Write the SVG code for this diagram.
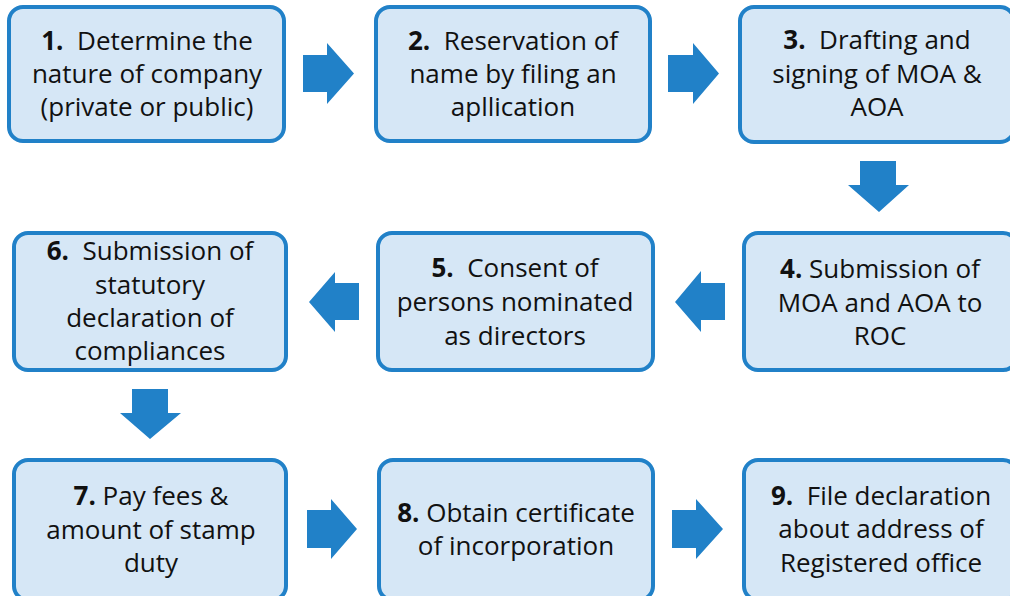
<svg xmlns="http://www.w3.org/2000/svg" width="1010" height="596" viewBox="0 0 1010 596">
<style>
.box{fill:#D6E7F6;stroke:#2181C8;stroke-width:4}
.arr{fill:#2181C8}
text{font-family:"Open Sans","Noto Sans","Liberation Sans",sans-serif;font-size:26px;fill:#111;text-anchor:middle}
.b{font-weight:bold}
</style>
<rect width="1010" height="596" fill="#fff"/>
<g id="connectors">
<polygon class="arr" points="303,55 327,55 327,43 354,73.5 327,104 327,92 303,92"/>
<polygon class="arr" points="668,55 693,55 693,43 719,73.5 693,104 693,92 668,92"/>
<polygon class="arr" points="860,161 896,161 896,185 909,185 879,212 848,185 860,185"/>
<polygon class="arr" points="725,283 701,283 701,271 675,302 701,332 701,320 725,320"/>
<polygon class="arr" points="359,283 335,283 335,272 309,302 335,332 335,320 359,320"/>
<polygon class="arr" points="132,389 168,389 168,413 181,413 150,439 120,413 132,413"/>
<polygon class="arr" points="307,510 331,510 331,499 357,529 331,559 331,548 307,548"/>
<polygon class="arr" points="672,510 696,510 696,499 723,529 696,559 696,548 672,548"/>
</g>
<g id="n1">
<rect class="box" x="9" y="7" width="275" height="134" rx="14"/>
<text x="147" y="50"><tspan class="b">1.</tspan>&#160; Determine the</text>
<text x="147" y="83">nature of company</text>
<text x="147" y="116">(private or public)</text>
</g>
<g id="n2">
<rect class="box" x="376" y="7" width="274" height="134" rx="14"/>
<text x="513" y="50"><tspan class="b">2.</tspan>&#160; Reservation of</text>
<text x="513" y="83">name by filing an</text>
<text x="513" y="116">apllication</text>
</g>
<g id="n3">
<rect class="box" x="740" y="7" width="274" height="135" rx="14"/>
<text x="877" y="49"><tspan class="b">3.</tspan>&#160; Drafting and</text>
<text x="877" y="83">signing of MOA &amp;</text>
<text x="877" y="116">AOA</text>
</g>
<g id="n4">
<rect class="box" x="744" y="233" width="273" height="137" rx="14"/>
<text x="880" y="278"><tspan class="b">4.</tspan> Submission of</text>
<text x="880" y="312">MOA and AOA to</text>
<text x="880" y="345">ROC</text>
</g>
<g id="n5">
<rect class="box" x="378" y="233" width="275" height="137" rx="14"/>
<text x="515" y="277"><tspan class="b">5.</tspan>&#160; Consent of</text>
<text x="515" y="311">persons nominated</text>
<text x="515" y="345">as directors</text>
</g>
<g id="n6">
<rect class="box" x="14" y="233" width="272" height="137" rx="14"/>
<text x="150" y="260"><tspan class="b">6.</tspan>&#160; Submission of</text>
<text x="150" y="294">statutory</text>
<text x="150" y="327">declaration of</text>
<text x="150" y="360">compliances</text>
</g>
<g id="n7">
<rect class="box" x="14" y="460" width="272" height="140" rx="14"/>
<text x="151" y="505"><tspan class="b">7.</tspan> Pay fees &amp;</text>
<text x="151" y="539">amount of stamp</text>
<text x="151" y="572">duty</text>
</g>
<g id="n8">
<rect class="box" x="379" y="460" width="274" height="140" rx="14"/>
<text x="516" y="522"><tspan class="b">8.</tspan> Obtain certificate</text>
<text x="516" y="555">of incorporation</text>
</g>
<g id="n9">
<rect class="box" x="744" y="460" width="273" height="140" rx="14"/>
<text x="881" y="505"><tspan class="b">9.</tspan>&#160; File declaration</text>
<text x="881" y="538">about address of</text>
<text x="881" y="572">Registered office</text>
</g>
</svg>
